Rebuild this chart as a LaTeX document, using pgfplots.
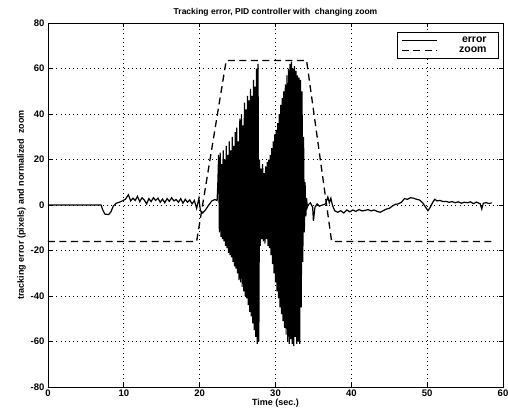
\documentclass[border=0pt]{standalone}
\usepackage{pgfplots}
\pgfplotsset{compat=1.18}
\usepackage{fontspec}
\setmainfont{Liberation Sans}
\begin{document}
\begin{tikzpicture}
\begin{axis}[
  scale only axis,
  width=455pt, height=364pt,
  xmin=0, xmax=60, ymin=-80, ymax=80,
  xtick={0,10,...,60}, ytick={-80,-60,...,80},
  tick align=inside, major tick length=4pt,
  xtick pos=both, ytick pos=both,
  grid=major, grid style={black, line width=0.8pt, dash pattern=on 0.8pt off 3.4pt},
  axis line style={line width=0.9pt},
  tick style={black, line width=0.7pt},
  /pgf/number format/assume math mode=true,
  tick label style={font=\fontsize{9.5}{11}\selectfont\bfseries},
  label style={font=\fontsize{9}{11}\selectfont\bfseries},
  title style={font=\fontsize{8.5}{10}\selectfont\bfseries, yshift=-3pt},
  title={Tracking error, PID controller with\ \ changing zoom},
  xlabel={Time (sec.)},
  ylabel={tracking error (pixels) and normalized\ \ zoom},
  xlabel style={yshift=4pt},
  ylabel style={yshift=-2pt},
  xticklabel style={yshift=1pt},
  legend style={at={(rel axis cs:0.991,0.975)}, anchor=north east, draw=black, line width=0.7pt, fill=white,
    font=\fontsize{10.5}{12}\selectfont\bfseries, row sep=-1.5pt, inner xsep=4pt, inner ysep=2.5pt},
  legend image code/.code={\draw[#1] (0pt,0pt) -- (35pt,0pt);},
]
\addplot[black, line width=1.2pt] coordinates {
(0,0) (2,0) (4,0) (6,0) (7,0) (7.2,-2) (7.5,-4) (8.0,-4.2) (8.3,-3) (8.6,-0.5) (9,0.8) (9.4,1.2) (9.8,1.8)
(10.2,2.5) (10.6,4.5) (10.9,1.8) (11.2,3) (11.5,2) (11.8,3.8) (12.1,1.5) (12.4,3.2) (12.7,2.2) (13,0.5)
(13.3,2.8) (13.6,1.5) (13.9,3.2) (14.2,2) (14.5,3) (14.8,1.2) (15.1,2.6) (15.4,1) (15.7,2.8) (16,1.6)
(16.3,3.2) (16.6,1.8) (16.9,2.4) (17.2,1.2) (17.5,2.8) (17.8,0.8) (18.1,2.5) (18.4,1.2) (18.7,2.2)
(19,0.5) (19.3,2) (19.6,-1.5) (19.9,3) (20.1,-2.5) (20.4,-3.5) (20.8,-2) (21.2,0) (21.6,1.8) (22,2.4)
(22.3,2) (22.4,10) (22.5,22) (22.6,-12) (22.7,23) (22.8,-14) (22.9,18) (23.0,-15) (23.1,24) (23.2,-16)
(23.3,20) (23.4,-18) (23.5,26) (23.6,-19) (23.7,22) (23.8,-21) (23.9,28) (24.0,-22) (24.1,24) (24.2,-23)
(24.3,30) (24.4,-25) (24.5,26) (24.6,-27) (24.7,32) (24.8,-28) (24.9,34) (25.0,-30) (25.1,28) (25.2,-33)
(25.3,38) (25.4,-34) (25.5,40) (25.6,-36) (25.7,35) (25.8,-38) (25.9,45) (26.0,-40) (26.1,42) (26.2,-41)
(26.3,48) (26.4,-44) (26.5,46) (26.6,-47) (26.7,51) (26.8,-49) (26.9,48) (27.0,-52) (27.1,55) (27.2,-55)
(27.3,52) (27.4,-58) (27.5,60) (27.6,-61) (27.7,62) (27.8,-60) (27.9,20) (28.0,-18) (28.1,16) (28.2,-15)
(28.3,18) (28.4,-16) (28.5,14) (28.6,-17) (28.7,17) (28.8,-15) (28.9,19) (29.0,-18) (29.1,20) (29.2,-19)
(29.3,22) (29.4,-22) (29.5,25) (29.6,-26) (29.7,28) (29.8,-30) (29.9,31) (30.0,-34) (30.1,33) (30.2,-38)
(30.3,36) (30.4,-41) (30.5,40) (30.6,-45) (30.7,44) (30.8,-48) (30.9,47) (31.0,-51) (31.1,50) (31.2,-54)
(31.3,53) (31.4,-57) (31.5,57) (31.6,-60) (31.7,60) (31.8,-61) (31.9,62) (32.0,-59) (32.1,63) (32.2,-61)
(32.3,60) (32.4,-62) (32.5,61) (32.6,-58) (32.7,59) (32.8,-61) (32.9,57) (33.0,-60) (33.1,56) (33.2,-61)
(33.3,55) (33.4,-45) (33.5,50) (33.6,-25) (33.7,30) (33.8,-12) (33.9,10) (34.0,-5) (34.1,3) (34.2,-1)
(34.3,0) (34.6,1) (34.9,-1) (35.0,-7) (35.2,-1) (35.5,0.5) (35.8,-0.5) (36.2,0) (36.6,0.5) (36.9,3.5)
(37.1,1) (37.3,3) (37.5,0) (37.8,-2.5) (38.2,-3.2) (38.6,-2.5) (39.0,-3.5) (39.4,-2.2) (39.8,-3)
(40.2,-2.2) (40.6,-2.8) (41.0,-2) (41.4,-2.6) (41.8,-2.4) (42.2,-2.0) (42.6,-2.6) (43.0,-2.2) (43.4,-2.8)
(43.8,-3.2) (44.2,-2.5) (44.6,-1.8) (45.0,-1.5) (45.4,-0.5) (45.8,0.3) (46.2,0.5) (46.6,1.2) (47.0,2.8)
(47.4,2.5) (47.8,3.2) (48.2,3.0) (48.6,2.5) (49.0,2.2) (49.4,1.0) (49.8,-1.0) (50.1,-2.5) (50.4,-1.0)
(50.7,1.0) (51.0,2.5) (51.3,1.8) (51.7,2.0) (52.1,1.5) (52.5,1.6) (52.9,1.2) (53.3,1.5) (53.7,1.0)
(54.1,1.4) (54.5,0.8) (54.9,1.2) (55.3,1.0) (55.7,1.4) (56.1,0.6) (56.5,1.3) (57.0,0.5) (57.2,-1.8)
(57.4,0.8) (57.8,1.0) (58.2,0.6) (58.5,1.0)
};
\addlegendentry{\makebox[53pt][r]{error\hspace{6pt}}}
\addplot[black, line width=1.3pt, dash pattern=on 7pt off 4.5pt] coordinates {
(0,-16) (19.6,-16) (23.5,63.5) (34.1,63.5) (37.4,-16) (58.5,-16)
};
\addlegendentry{\makebox[53pt][r]{zoom\hspace{6pt}}}
\end{axis}
\pgfresetboundingbox
\path[use as bounding box] (-48pt,-26pt) rectangle (460pt,387pt);
\end{tikzpicture}
\end{document}
